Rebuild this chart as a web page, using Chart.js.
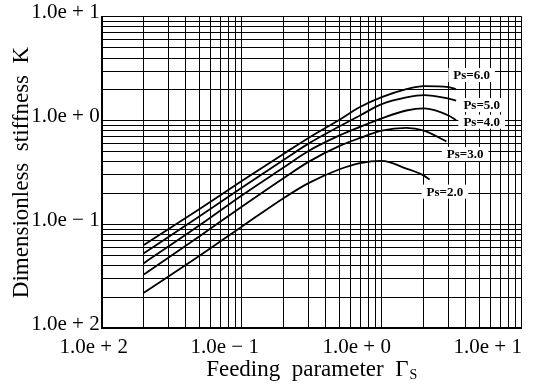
<!DOCTYPE html>
<html><head><meta charset="utf-8">
<script src="https://cdn.jsdelivr.net/npm/chart.js@4/dist/chart.umd.min.js"></script>
<style>html,body{margin:0;padding:0;background:#fff}#wrap{width:549px;height:384px;position:relative}</style>
</head><body><div id="wrap"><canvas id="c"></canvas></div>
<script>
// ---- data ----
const gammaPs2 = [0.02, 0.05, 0.1, 0.2, 0.3, 0.5, 0.7, 1.0, 1.5, 2.0, 2.2];
const kPs2     = [0.022, 0.050, 0.095, 0.18, 0.25, 0.34, 0.39, 0.41, 0.345, 0.295, 0.27];
const gammaPs3 = [0.02, 0.05, 0.1, 0.2, 0.3, 0.5, 0.7, 1.0, 1.5, 2.0, 2.9];
const kPs3     = [0.033, 0.077, 0.148, 0.28, 0.40, 0.57, 0.68, 0.80, 0.85, 0.80, 0.63];
const gammaHi  = [0.02, 0.05, 0.1, 0.2, 0.3, 0.5, 0.7, 1.0, 1.5, 2.0, 3.0, 3.4];
const kPs4     = [0.0424, 0.098, 0.19, 0.355, 0.51, 0.72, 0.87, 1.05, 1.25, 1.31, 1.12, 1.01];
const kPs5     = [0.0528, 0.120, 0.226, 0.42, 0.60, 0.88, 1.12, 1.44, 1.67, 1.76, 1.63, 1.56];
const kPs6     = [0.0635, 0.141, 0.262, 0.48, 0.68, 1.02, 1.35, 1.68, 2.01, 2.15, 2.10, 2.00];
const seriesNames = ['Ps=2.0', 'Ps=3.0', 'Ps=4.0', 'Ps=5.0', 'Ps=6.0'];
const xTickLabels = ['1.0e + 2', '1.0e \u2212 1', '1.0e + 0', '1.0e + 1'];
const yTickLabels = ['1.0e + 2', '1.0e \u2212 1', '1.0e + 0', '1.0e + 1'];
const decades = [0.01, 0.1, 1, 10];
const xTitle = 'Feeding  parameter  \u0393';
const xTitleSub = 'S';
const yTitle = 'Dimensionless  stiffness  K';

// ---- helpers ----
const pts = (xs, ys) => xs.map((x, i) => ({x, y: ys[i]}));
const gridVals = [];
for (let e = -2; e < 1; e++) for (let m = 1; m <= 9; m++) gridVals.push(+(m * Math.pow(10, e)).toPrecision(3));
gridVals.push(10);
const decadeIndex = v => decades.findIndex(d => Math.abs(v - d) / d < 1e-6);

const SERIF = '"Liberation Serif", "Times New Roman", serif';

const ds = [
  [gammaPs2, kPs2], [gammaPs3, kPs3], [gammaHi, kPs4], [gammaHi, kPs5], [gammaHi, kPs6]
].map((p, i) => ({
  label: seriesNames[i], data: pts(p[0], p[1]),
  borderColor: '#000', borderWidth: 1.8, pointRadius: 0, fill: false,
  cubicInterpolationMode: 'monotone'
}));

const annot = {
  id: 'annot',
  afterDatasetsDraw(chart) {
    const {ctx, scales: {x, y}} = chart;
    // curve labels placed at data coordinates
    const pos = [[2.83, 0.207], [3.94, 0.477], [5.18, 0.976], [5.18, 1.41], [4.39, 2.75]];
    ctx.save();
    ctx.font = 'bold 13px ' + SERIF;
    ctx.textAlign = 'center'; ctx.textBaseline = 'middle';
    seriesNames.forEach((t, i) => {
      const px = x.getPixelForValue(pos[i][0]), py = y.getPixelForValue(pos[i][1]);
      const w = ctx.measureText(t).width;
      ctx.fillStyle = '#fff';
      ctx.fillRect(px - w / 2 - 5, py - 7, w + 10, 14);
      ctx.fillStyle = '#000';
      ctx.fillText(t, px, py + 1);
    });
    ctx.restore();
  },
  afterDraw(chart) {
    const {ctx, scales: {x}, chartArea} = chart;
    ctx.save();
    ctx.fillStyle = '#000';
    ctx.font = '21px ' + SERIF;
    ctx.textAlign = 'center'; ctx.textBaseline = 'middle';
    const shift = [-8, -17, -25, -34];
    decades.forEach((d, i) => {
      ctx.fillText(xTickLabels[i], x.getPixelForValue(d) + shift[i], chartArea.bottom + 19);
    });
    // x title with subscript
    ctx.font = '23px ' + SERIF;
    const w1 = ctx.measureText(xTitle).width;
    ctx.font = '14px ' + SERIF;
    const w2 = ctx.measureText(xTitleSub).width;
    const cx = (chartArea.left + chartArea.right) / 2;
    const startX = cx - (w1 + w2 + 1) / 2;
    ctx.textAlign = 'left';
    ctx.font = '23px ' + SERIF;
    ctx.fillText(xTitle, startX, chartArea.bottom + 42);
    ctx.font = '14px ' + SERIF;
    ctx.fillText(xTitleSub, startX + w1 + 1, chartArea.bottom + 47);
    ctx.restore();
  }
};

new Chart(document.getElementById('c'), {
  type: 'line',
  data: {datasets: ds},
  options: {
    responsive: true, maintainAspectRatio: false, animation: false,
    layout: {padding: {top: 16.7, right: 27.3, left: 0, bottom: 0}},
    plugins: {legend: {display: false}, tooltip: {enabled: false}},
    scales: {
      x: {
        type: 'logarithmic', min: 0.01, max: 10,
        afterBuildTicks: s => { s.ticks = gridVals.map(v => ({value: v})); },
        border: {display: true, color: '#000', width: 2},
        grid: {color: '#000', lineWidth: 1, drawTicks: false},
        ticks: {display: false},
        afterFit: s => { s.height = 384 - 328.3; }
      },
      y: {
        type: 'logarithmic', min: 0.01, max: 10,
        afterBuildTicks: s => { s.ticks = gridVals.map(v => ({value: v})); },
        border: {display: true, color: '#000', width: 2},
        grid: {color: '#000', lineWidth: 1, drawTicks: false},
        ticks: {
          autoSkip: false, padding: 2, labelOffset: -4, color: '#000',
          font: {family: SERIF, size: 21},
          callback: v => { const i = decadeIndex(v); return i >= 0 ? yTickLabels[i] : ''; }
        },
        title: {display: true, text: yTitle, color: '#000', font: {family: SERIF, size: 23}, padding: {top: 8, bottom: 0}},
        afterFit: s => { s.width = 101.7; }
      }
    }
  },
  plugins: [annot]
});
</script>
</body></html>
